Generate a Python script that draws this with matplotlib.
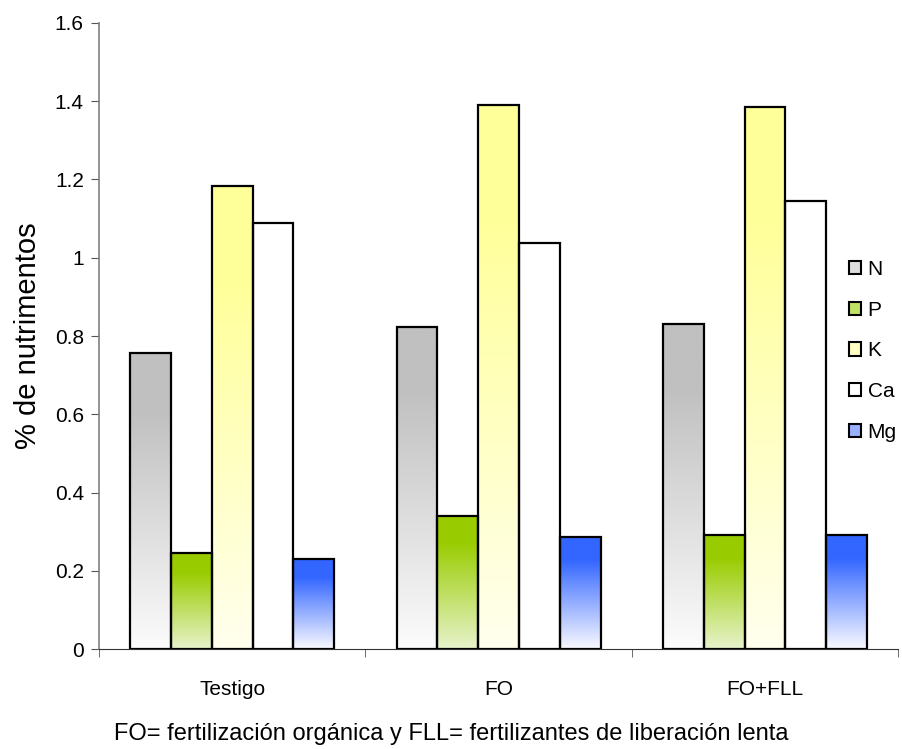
import numpy as np
import matplotlib
matplotlib.use("Agg")
import matplotlib.pyplot as plt
from matplotlib.patches import Rectangle
from matplotlib.colors import LinearSegmentedColormap

plt.rcParams['font.family'] = ['Liberation Sans', 'DejaVu Sans']

categories = ["Testigo", "FO", "FO+FLL"]
nutrients = ["N", "P", "K", "Ca", "Mg"]
N = [0.757, 0.824, 0.831]
P = [0.245, 0.341, 0.291]
K = [1.183, 1.390, 1.385]
Ca = [1.088, 1.037, 1.144]
Mg = [0.229, 0.285, 0.291]
series = [N, P, K, Ca, Mg]
# (top colour, bottom colour) for each series' vertical gradient
grad = [("#c0c0c0", "#fcfcfc"), ("#99cc00", "#e8f3cc"), ("#ffff99", "#ffffee"),
        ("#ffffff", "#ffffff"), ("#3366ff", "#fafaff")]

fig = plt.figure(figsize=(9.02, 7.49), dpi=100)
ax = fig.add_axes([0.1098, 0.1335, 0.886, 0.8358])

width = 0.153
x = np.arange(len(categories))
offsets = (np.arange(5) - 2) * width
for i, (vals, (ctop, cbot)) in enumerate(zip(series, grad)):
    cmap = LinearSegmentedColormap.from_list("g%d" % i, [(0, cbot), (0.8, ctop), (1, ctop)])
    bars = ax.bar(x + offsets[i], vals, width, color="none", edgecolor="black",
                  linewidth=1.6, zorder=3)
    for b in bars:
        bx = b.get_x()
        bw, bh = b.get_width(), b.get_height()
        g = np.linspace(0, 1, 256).reshape(-1, 1)
        im = ax.imshow(g, cmap=cmap, origin="lower", aspect="auto",
                       extent=(bx, bx + bw, 0, bh), zorder=2)
        im.set_clip_path(b)

ax.set_xlim(-0.5, 2.5)
ax.set_ylim(0, 1.6)
ax.set_yticks(np.arange(0, 1.61, 0.2))
ax.set_yticklabels(["0", "0.2", "0.4", "0.6", "0.8", "1", "1.2", "1.4", "1.6"], fontsize=15)
ax.set_xticks(x)
ax.set_xticklabels(categories, fontsize=15)
ax.tick_params(axis='x', which='major', length=0, pad=22)
ax.set_xticks([-0.5, 0.5, 1.5, 2.5], minor=True)
ax.tick_params(axis='x', which='minor', length=6, direction='out', color='#555555')
ax.tick_params(axis='y', length=6, direction='out', color='#555555', pad=5)
ax.spines['top'].set_visible(False)
ax.spines['right'].set_visible(False)
ax.spines['left'].set_color('#808080')
ax.spines['left'].set_linewidth(1.2)
ax.spines['bottom'].set_color('#333333')
ax.set_ylabel("% de nutrimentos", fontsize=21, labelpad=9)

handles = []
for (ctop, cbot), name in zip(grad, nutrients):
    mid = np.array(matplotlib.colors.to_rgb(ctop)) * 0.5 + np.array(matplotlib.colors.to_rgb(cbot)) * 0.5
    handles.append(Rectangle((0, 0), 1, 1, facecolor=mid, edgecolor="black", linewidth=1.5))
fig.legend(handles, nutrients, loc="upper left", bbox_to_anchor=(0.941, 0.653),
           bbox_transform=fig.transFigure,
           frameon=False, fontsize=15, handlelength=0.6, handleheight=0.6,
           handletextpad=0.3, labelspacing=1.04, borderaxespad=0, borderpad=0)

fig.text(0.5, 0.006, "FO= fertilización orgánica y FLL= fertilizantes de liberación lenta",
         ha="center", va="bottom", fontsize=17)

fig.savefig("out.png", dpi=100)
